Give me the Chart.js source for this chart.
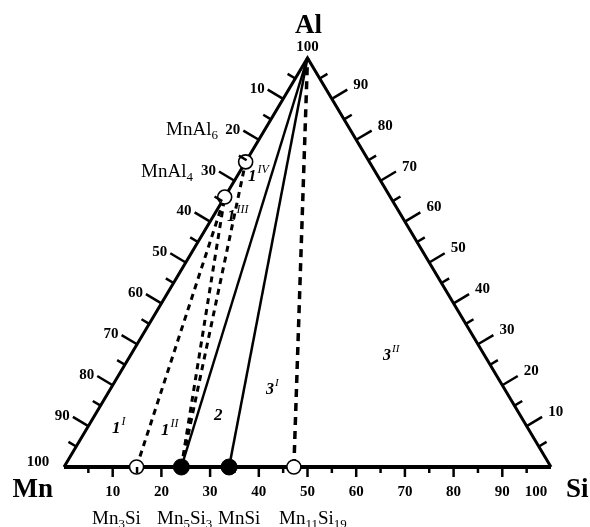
<!DOCTYPE html>
<html><head><meta charset="utf-8">
<script src="https://cdn.jsdelivr.net/npm/chart.js@4/dist/chart.umd.min.js"></script>
<style>html,body{margin:0;padding:0;background:#fff;}canvas{display:block;}</style>
</head><body>
<canvas id="c" width="590" height="527"></canvas>
<script>
// ---- Data (wt.%) : Mn–Si–Al ternary ----
const vertexNames = ['Mn', 'Si', 'Al'];
const baseTickLabels = ['10','20','30','40','50','60','70','80','90','100'];   // Si, wt.%
const leftTickLabels = ['10','20','30','40','50','60','70','80','90','100'];   // Mn, wt.%
const rightTickLabels = ['10','20','30','40','50','60','70','80','90','100'];  // Al, wt.%
const silicidePhases = ['Mn3Si', 'Mn5Si3', 'MnSi', 'Mn11Si19'];
const silicideSi = [14.9, 24.1, 33.9, 47.2];
const silicideFilled = [false, true, true, false];
const aluminidePhases = ['MnAl6', 'MnAl4'];
const aluminideAl = [74.6, 66.0];
const solidTieLines = [['Mn5Si3', 'Al'], ['MnSi', 'Al']];
const dashedTieLines = [['Mn3Si', 'MnAl4'], ['Mn5Si3', 'MnAl4'], ['Mn5Si3', 'MnAl6']];
const dashedVertLines = [['Mn11Si19', 'Al']];
const regionLabels = ['1^I', '1^II', '2', '3^I', '3^II', '1^III', '1^IV'];

// ternary (Si, Al) -> cartesian
function toXY(si, al) { return { x: si + al / 2, y: al }; }
function compOf(name) {
  if (name === 'Mn') return [0, 0];
  if (name === 'Si') return [100, 0];
  if (name === 'Al') return [0, 100];
  let i = silicidePhases.indexOf(name);
  if (i >= 0) return [silicideSi[i], 0];
  i = aluminidePhases.indexOf(name);
  return [0, aluminideAl[i]];
}
function ptOf(name) { const c = compOf(name); return toXY(c[0], c[1]); }

const datasets = [];
// markers
const openPts = [], filledPts = [];
silicidePhases.forEach((n, i) => (silicideFilled[i] ? filledPts : openPts).push(ptOf(n)));
aluminidePhases.forEach(n => openPts.push(ptOf(n)));
datasets.push({ data: filledPts, pointRadius: 8, pointBackgroundColor: '#000', pointBorderColor: '#000', pointBorderWidth: 1, showLine: false, clip: false, order: 0 });
datasets.push({ data: openPts, pointRadius: 7, pointBackgroundColor: '#fff', pointBorderColor: '#000', pointBorderWidth: 1.6, showLine: false, clip: false, order: 0 });
// tie lines
solidTieLines.forEach(p => datasets.push({ data: [ptOf(p[0]), ptOf(p[1])], showLine: true, pointRadius: 0, borderColor: '#000', borderWidth: 2.5, clip: false, order: 1 }));
dashedTieLines.forEach(p => datasets.push({ data: [ptOf(p[0]), ptOf(p[1])], showLine: true, pointRadius: 0, borderColor: '#000', borderWidth: 3, borderDash: [6, 5], clip: false, order: 1 }));
dashedVertLines.forEach(p => datasets.push({ data: [ptOf(p[0]), ptOf(p[1])], showLine: true, pointRadius: 0, borderColor: '#000', borderWidth: 3.5, borderDash: [8, 6], clip: false, order: 1 }));
// triangle edges
datasets.push({ data: [ptOf('Mn'), ptOf('Si')], showLine: true, pointRadius: 0, borderColor: '#000', borderWidth: 4, clip: false, order: 2 });
datasets.push({ data: [ptOf('Mn'), ptOf('Al'), ptOf('Si')], showLine: true, pointRadius: 0, borderColor: '#000', borderWidth: 3, borderJoinStyle: 'miter', clip: false, order: 2 });

const SERIF = '"Liberation Serif", "DejaVu Serif", serif';

function drawChem(ctx, text, x, y, size, align) {
  const parts = [];
  text.replace(/([A-Za-z]+)(\d*)/g, (m, a, d) => { parts.push([a, 0]); if (d) parts.push([d, 1]); });
  const sub = Math.round(size * 0.66);
  let w = 0;
  parts.forEach(p => { ctx.font = (p[1] ? sub : size) + 'px ' + SERIF; w += ctx.measureText(p[0]).width; });
  let cx = align === 'center' ? x - w / 2 : (align === 'right' ? x - w : x);
  ctx.textAlign = 'left'; ctx.textBaseline = 'alphabetic';
  parts.forEach(p => {
    ctx.font = (p[1] ? sub : size) + 'px ' + SERIF;
    ctx.fillText(p[0], cx, y + (p[1] ? size * 0.22 : 0));
    cx += ctx.measureText(p[0]).width;
  });
}
function drawSup(ctx, text, x, y, size) {
  const [b, s] = text.split('^');
  ctx.textAlign = 'left'; ctx.textBaseline = 'alphabetic';
  ctx.font = 'italic bold ' + size + 'px ' + SERIF;
  ctx.fillText(b, x, y);
  const w = ctx.measureText(b).width;
  if (s) {
    ctx.font = 'italic ' + Math.round(size * 0.68) + 'px ' + SERIF;
    ctx.fillText(s, x + w + 1, y - size * 0.5);
  }
}

const ternaryPlugin = {
  id: 'ternary',
  afterDatasetsDraw(chart) {
    const ctx = chart.ctx, xs = chart.scales.x, ys = chart.scales.y;
    const px = (si, al) => { const p = toXY(si, al); return [xs.getPixelForValue(p.x), ys.getPixelForValue(p.y)]; };
    const [mnX, mnY] = px(0, 0), [siX, siY] = px(100, 0), [alX, alY] = px(0, 100);
    const lx = alX - mnX, ly = alY - mnY, L = Math.hypot(lx, ly);
    const nL = [ly / L, -lx / L];
    const rx = alX - siX, ry = alY - siY, R = Math.hypot(rx, ry);
    const nR = [-ry / R, rx / R];
    ctx.save();
    ctx.strokeStyle = '#000'; ctx.fillStyle = '#000'; ctx.lineWidth = 2.5; ctx.lineCap = 'butt';
    const seg = (x1, y1, x2, y2) => { ctx.beginPath(); ctx.moveTo(x1, y1); ctx.lineTo(x2, y2); ctx.stroke(); };
    for (let v = 5; v < 100; v += 5) {
      const major = v % 10 === 0;
      let [x, y] = px(v, 0);
      seg(x, y, x, y + (major ? 10 : 6));
      const len = major ? 18 : 9;
      [x, y] = px(0, 100 - v);
      seg(x, y, x + nL[0] * len, y + nL[1] * len);
      [x, y] = px(100 - v, v);
      seg(x, y, x + nR[0] * len, y + nR[1] * len);
    }
    // tick labels
    ctx.font = 'bold 15px ' + SERIF; ctx.textAlign = 'center'; ctx.textBaseline = 'middle';
    baseTickLabels.forEach(t => { const v = +t; const [x, y] = px(v, 0); ctx.fillText(t, x + (v === 100 ? -15 : 0), y + 25); });
    leftTickLabels.forEach(t => { const v = +t; const [x, y] = px(0, 100 - v); ctx.fillText(t, x - 26, y + (v === 100 ? -5 : -10)); });
    rightTickLabels.forEach(t => { const v = +t; const [x, y] = px(100 - v, v); if (v === 100) ctx.fillText(t, x, y - 11); else ctx.fillText(t, x + 29, y - 14); });
    // vertex labels
    ctx.font = 'bold 27px ' + SERIF; ctx.textBaseline = 'alphabetic';
    ctx.textAlign = 'right'; ctx.fillText(vertexNames[0], mnX - 11, mnY + 30);
    ctx.textAlign = 'left'; ctx.fillText(vertexNames[1], siX + 15, siY + 30);
    ctx.textAlign = 'center'; ctx.fillText(vertexNames[2], alX + 1, alY - 25);
    // phase labels
    const silX = [92, 157, 218, 279];
    silicidePhases.forEach((n, i) => drawChem(ctx, n, silX[i], 524, 19, 'left'));
    const alPos = [[218, 135], [193, 177]];
    aluminidePhases.forEach((n, i) => drawChem(ctx, n, alPos[i][0], alPos[i][1], 19, 'right'));
    // region labels
    const regPos = [[112, 433], [161, 435], [214, 420], [266, 394], [383, 360], [227, 221], [248, 181]];
    regionLabels.forEach((r, i) => drawSup(ctx, r, regPos[i][0], regPos[i][1], r[0] === '3' ? 16 : 17));
    ctx.restore();
  }
};

new Chart(document.getElementById('c'), {
  type: 'scatter',
  data: { datasets },
  options: {
    responsive: false,
    animation: false,
    layout: { padding: { left: 64, right: 39, top: 58, bottom: 60 } },
    scales: {
      x: { type: 'linear', min: 0, max: 100, display: false },
      y: { type: 'linear', min: 0, max: 100, display: false }
    },
    plugins: { legend: { display: false }, tooltip: { enabled: false } },
    events: []
  },
  plugins: [ternaryPlugin]
});
</script>
</body></html>
